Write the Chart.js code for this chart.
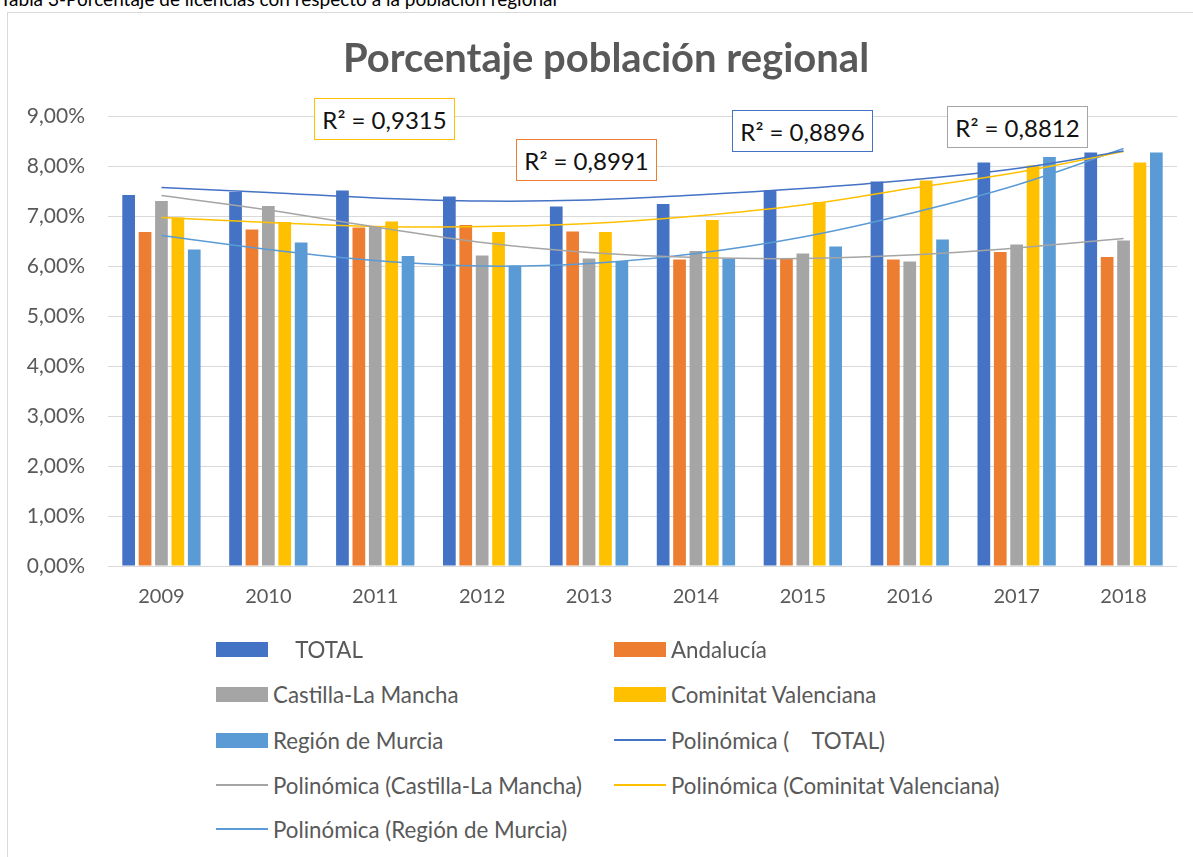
<!DOCTYPE html>
<html>
<head>
<meta charset="utf-8">
<script src="https://cdn.jsdelivr.net/npm/chart.js@4.4.1/dist/chart.umd.min.js"></script>
<style>
body { margin: 0; background: #fff; font-family: Lato, sans-serif; width: 1193px; height: 857px; overflow: hidden; position: relative; }
#caption { position: absolute; left: 0; top: -11px; font-size: 19px; line-height: 19px; color: #000; white-space: nowrap; }
#frame { position: absolute; left: 7px; top: 12px; width: 1300px; height: 1000px; border: 1px solid #d9d9d9; }
#title { position: absolute; left: 0; width: 1212px; top: 33px; text-align: center; font-size: 40px; font-weight: bold; color: #595959; line-height: 48px; }
#chart { position: absolute; left: 0; top: 0; }
.r2 { position: absolute; background: #fff; border: 1.5px solid; box-sizing: border-box; font-size: 24px; color: #111;
      display: flex; align-items: center; justify-content: center; }
.leg { position: absolute; height: 30px; display: flex; align-items: center; font-size: 22.3px; color: #595959; white-space: pre; }
.sw { width: 52px; margin-right: 5px; }
</style>
</head>
<body>
<div id="caption">Tabla 3-Porcentaje de licencias con respecto a la población regional</div>
<div id="frame"></div>
<canvas id="chart" width="1193" height="640"></canvas>
<div id="title">Porcentaje población regional</div>
<div id="r2box"></div>
<div id="legend"></div>
<script>
// data (percent)
const years = ['2009', '2010', '2011', '2012', '2013', '2014', '2015', '2016', '2017', '2018'];
const total = [7.42, 7.48, 7.51, 7.39, 7.19, 7.24, 7.51, 7.69, 8.07, 8.27];
const andalucia = [6.68, 6.73, 6.77, 6.82, 6.69, 6.13, 6.15, 6.13, 6.28, 6.18];
const castilla = [7.30, 7.20, 6.79, 6.21, 6.15, 6.30, 6.25, 6.09, 6.43, 6.51];
const valenciana = [6.97, 6.88, 6.89, 6.68, 6.68, 6.92, 7.28, 7.71, 8.01, 8.07];
const murcia = [6.33, 6.47, 6.20, 6.01, 6.10, 6.15, 6.39, 6.53, 8.18, 8.27];

// trendlines (polinómica) as drawn in the picture
const trendTotal = [7.57, 7.47, 7.36, 7.30, 7.32, 7.42, 7.55, 7.72, 7.95, 8.30];
const trendCastilla = [7.41, 7.12, 6.78, 6.47, 6.27, 6.17, 6.15, 6.22, 6.36, 6.55];
const trendValenciana = [6.97, 6.87, 6.79, 6.79, 6.85, 7.00, 7.22, 7.55, 7.87, 8.29];
const trendMurcia = [6.61, 6.33, 6.11, 6.00, 6.05, 6.25, 6.58, 7.05, 7.62, 8.35];

const yTicks = [0, 1, 2, 3, 4, 5, 6, 7, 8, 9];

const r2Labels = ['R² = 0,9315', 'R² = 0,8991', 'R² = 0,8896', 'R² = 0,8812'];

const barNames = ['    TOTAL', 'Andalucía', 'Castilla-La Mancha', 'Cominitat Valenciana', 'Región de Murcia'];
const lineNames = ['Polinómica (    TOTAL)', 'Polinómica (Castilla-La Mancha)', 'Polinómica (Cominitat Valenciana)', 'Polinómica (Región de Murcia)'];

const colTotal = '#4472C4', colAnd = '#ED7D31', colCas = '#A5A5A5', colVal = '#FFC000', colMur = '#5B9BD5';

function bar(label, data, color) {
    return { type: 'bar', label: label, data: data, backgroundColor: color, order: 2 };
}
function trend(label, data, color) {
    return { type: 'line', label: label, data: data, borderColor: color, borderWidth: 1.5,
             pointRadius: 0, tension: 0.4, fill: false, order: 1 };
}

const ctx = document.getElementById('chart').getContext('2d');
const chart = new Chart(ctx, {
    type: 'bar',
    data: {
        labels: years,
        datasets: [
            bar(barNames[0], total, colTotal),
            bar(barNames[1], andalucia, colAnd),
            bar(barNames[2], castilla, colCas),
            bar(barNames[3], valenciana, colVal),
            bar(barNames[4], murcia, colMur),
            trend(lineNames[0], trendTotal, colTotal),
            trend(lineNames[1], trendCastilla, colCas),
            trend(lineNames[2], trendValenciana, colVal),
            trend(lineNames[3], trendMurcia, colMur)
        ]
    },
    options: {
        responsive: false,
        animation: false,
        categoryPercentage: 0.767,
        barPercentage: 0.775,
        layout: { padding: { left: 0, right: 16, top: 116, bottom: 0 } },
        plugins: { legend: { display: false }, tooltip: { enabled: false } },
        scales: {
            x: {
                grid: { display: false },
                border: { display: false },
                ticks: { color: '#595959', font: { family: 'Lato', size: 20 }, padding: 11 },
                afterFit: (s) => { s.height = 640 - 566; }
            },
            y: {
                min: 0,
                max: 9,
                afterBuildTicks: (s) => { s.ticks = yTicks.map(v => ({ value: v })); },
                grid: { color: '#d9d9d9', lineWidth: 1, drawTicks: false },
                border: { display: false },
                ticks: {
                    color: '#595959',
                    font: { family: 'Lato', size: 21 },
                    padding: 23,
                    callback: (v) => v.toFixed(2).replace('.', ',') + '%'
                },
                afterFit: (s) => { s.width = 108; }
            }
        }
    }
});

// R² boxes
const r2Pos = [[314, 98, colVal], [516, 139, colAnd], [732, 110, colTotal], [947, 106, colCas]];
const r2Box = document.getElementById('r2box');
r2Labels.forEach((t, i) => {
    const d = document.createElement('div');
    d.className = 'r2';
    d.textContent = t;
    d.style.left = r2Pos[i][0] + 'px';
    d.style.top = r2Pos[i][1] + 'px';
    d.style.width = '141px';
    d.style.height = '42px';
    d.style.borderColor = r2Pos[i][2];
    r2Box.appendChild(d);
});

// legend in two columns
const legItems = [];
chart.data.datasets.forEach(ds => {
    legItems.push({ name: ds.label, type: ds.type, color: ds.type === 'bar' ? ds.backgroundColor : ds.borderColor });
});
const legend = document.getElementById('legend');
const colX = [216, 614];
const rowY = [649, 694, 740, 785, 829];
legItems.forEach((it, i) => {
    const d = document.createElement('div');
    d.className = 'leg';
    d.style.left = colX[i % 2] + 'px';
    d.style.top = (rowY[Math.floor(i / 2)] - 15) + 'px';
    const sw = document.createElement('div');
    sw.className = 'sw';
    if (it.type === 'bar') {
        sw.style.height = '15px';
        sw.style.background = it.color;
    } else {
        sw.style.height = '1.5px';
        sw.style.background = it.color;
    }
    d.appendChild(sw);
    const tx = document.createElement('span');
    tx.textContent = it.name;
    d.appendChild(tx);
    legend.appendChild(d);
});
</script>
</body>
</html>
